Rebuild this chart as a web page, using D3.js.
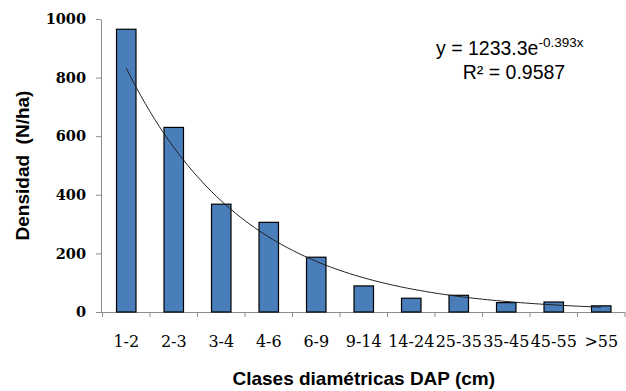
<!doctype html>
<html>
<head>
<meta charset="UTF-8">
<title>Densidad por clase diamétrica</title>
<script src="https://d3js.org/d3.v7.min.js"></script>
<style>
	body { margin: 0; background: #fff; }
	.chart text { fill: #000; }
	.axis path, .axis line { stroke: #8c8c8c; }
	.axis--y text { font: bold 14.5px "DejaVu Serif", serif; }
	.axis--x text { font: 16px "DejaVu Serif", serif; }
	.title { font: bold 19px Arial, "Liberation Sans", sans-serif; white-space: pre; }
	.eq { font: 19.5px Arial, "Liberation Sans", sans-serif; }
</style>
</head>
<body>
<svg class="chart" width="626" height="391"></svg>
<script>
var categories = ['1-2', '2-3', '3-4', '4-6', '6-9', '9-14', '14-24', '25-35', '35-45', '45-55', '>55'];
var values = [965, 630, 368, 306, 187, 89, 47, 57, 32, 34, 21];
var yTicks = [0, 200, 400, 600, 800, 1000];
// trend line from the fitted equation shown on the chart
var fitA = 1233.3;
var fitB = -0.393;

var chart = d3.select('.chart');
var plotLeft = 102.5, plotRight = 625, plotTop = 19, plotBottom = 312;

var x = d3.scaleBand()
	.domain(categories)
	.range([plotLeft, plotRight])
	.padding(0);
var y = d3.scaleLinear()
	.domain([0, 1000])
	.range([plotBottom, plotTop]);
var xi = d3.scaleLinear()
	.domain([1, categories.length])
	.range([x(categories[0]) + x.bandwidth() / 2, x(categories[categories.length - 1]) + x.bandwidth() / 2]);

var barW = x.bandwidth() * 0.41;

// y axis
chart.append('g')
	.attr('class', 'axis axis--y')
	.attr('transform', 'translate(' + (plotLeft - 1.5) + ',0)')
	.call(d3.axisLeft(y).tickValues(yTicks).tickFormat(d3.format('d'))
		.tickSize(5).tickSizeOuter(0).tickPadding(10));

// x axis: labels at centers, ticks at category boundaries
var xAxis = chart.append('g')
	.attr('class', 'axis axis--x')
	.attr('transform', 'translate(0,' + plotBottom + ')')
	.call(d3.axisBottom(x).tickSize(0).tickSizeOuter(0).tickPadding(24));
xAxis.selectAll('.tick text').attr('dy', '0.71em');
xAxis.select('.domain').attr('d', 'M' + (plotLeft - 1.5) + ',0.5H' + plotRight);
xAxis.selectAll('.bound')
	.data(categories.concat(['end']))
	.enter().append('line')
	.attr('class', 'bound')
	.attr('x1', function(d, i) { return i < categories.length ? x(d) : plotRight; })
	.attr('x2', function(d, i) { return i < categories.length ? x(d) : plotRight; })
	.attr('y1', 0)
	.attr('y2', 5);

// bars
chart.append('g').selectAll('.bar')
	.data(values)
	.enter().append('rect')
	.attr('class', 'bar')
	.attr('x', function(d, i) { return x(categories[i]) + (x.bandwidth() - barW) / 2; })
	.attr('y', function(d) { return y(d); })
	.attr('width', barW)
	.attr('height', function(d) { return plotBottom - y(d); })
	.attr('fill', '#4a7ebb')
	.attr('stroke', '#000')
	.attr('stroke-width', 1.2);

// exponential trend line
var line = d3.line()
	.x(function(d) { return xi(d); })
	.y(function(d) { return y(fitA * Math.exp(fitB * d)); });
chart.append('path')
	.datum(d3.range(1, categories.length + 0.001, 0.1))
	.attr('d', line)
	.attr('fill', 'none')
	.attr('stroke', '#222')
	.attr('stroke-width', 1);

// equation
var eq = chart.append('text')
	.attr('class', 'eq')
	.attr('x', 436)
	.attr('y', 55);
eq.append('tspan').text('y = 1233.3e');
eq.append('tspan').attr('dy', -8).style('font-size', '13.5px').text('-0.393x');
chart.append('text')
	.attr('class', 'eq')
	.attr('x', 514)
	.attr('y', 79)
	.attr('text-anchor', 'middle')
	.text('R² = 0.9587');

// axis titles
chart.append('text')
	.attr('class', 'title')
	.attr('text-anchor', 'middle')
	.style('font-size', '19px')
	.attr('transform', 'translate(29,' + ((plotTop + plotBottom) / 2) + ') rotate(-90)')
	.text('Densidad  (N/ha)');
chart.append('text')
	.attr('class', 'title')
	.attr('text-anchor', 'middle')
	.attr('x', (plotLeft + plotRight) / 2)
	.attr('y', 385)
	.text('Clases diamétricas DAP (cm)');
</script>
</body>
</html>
